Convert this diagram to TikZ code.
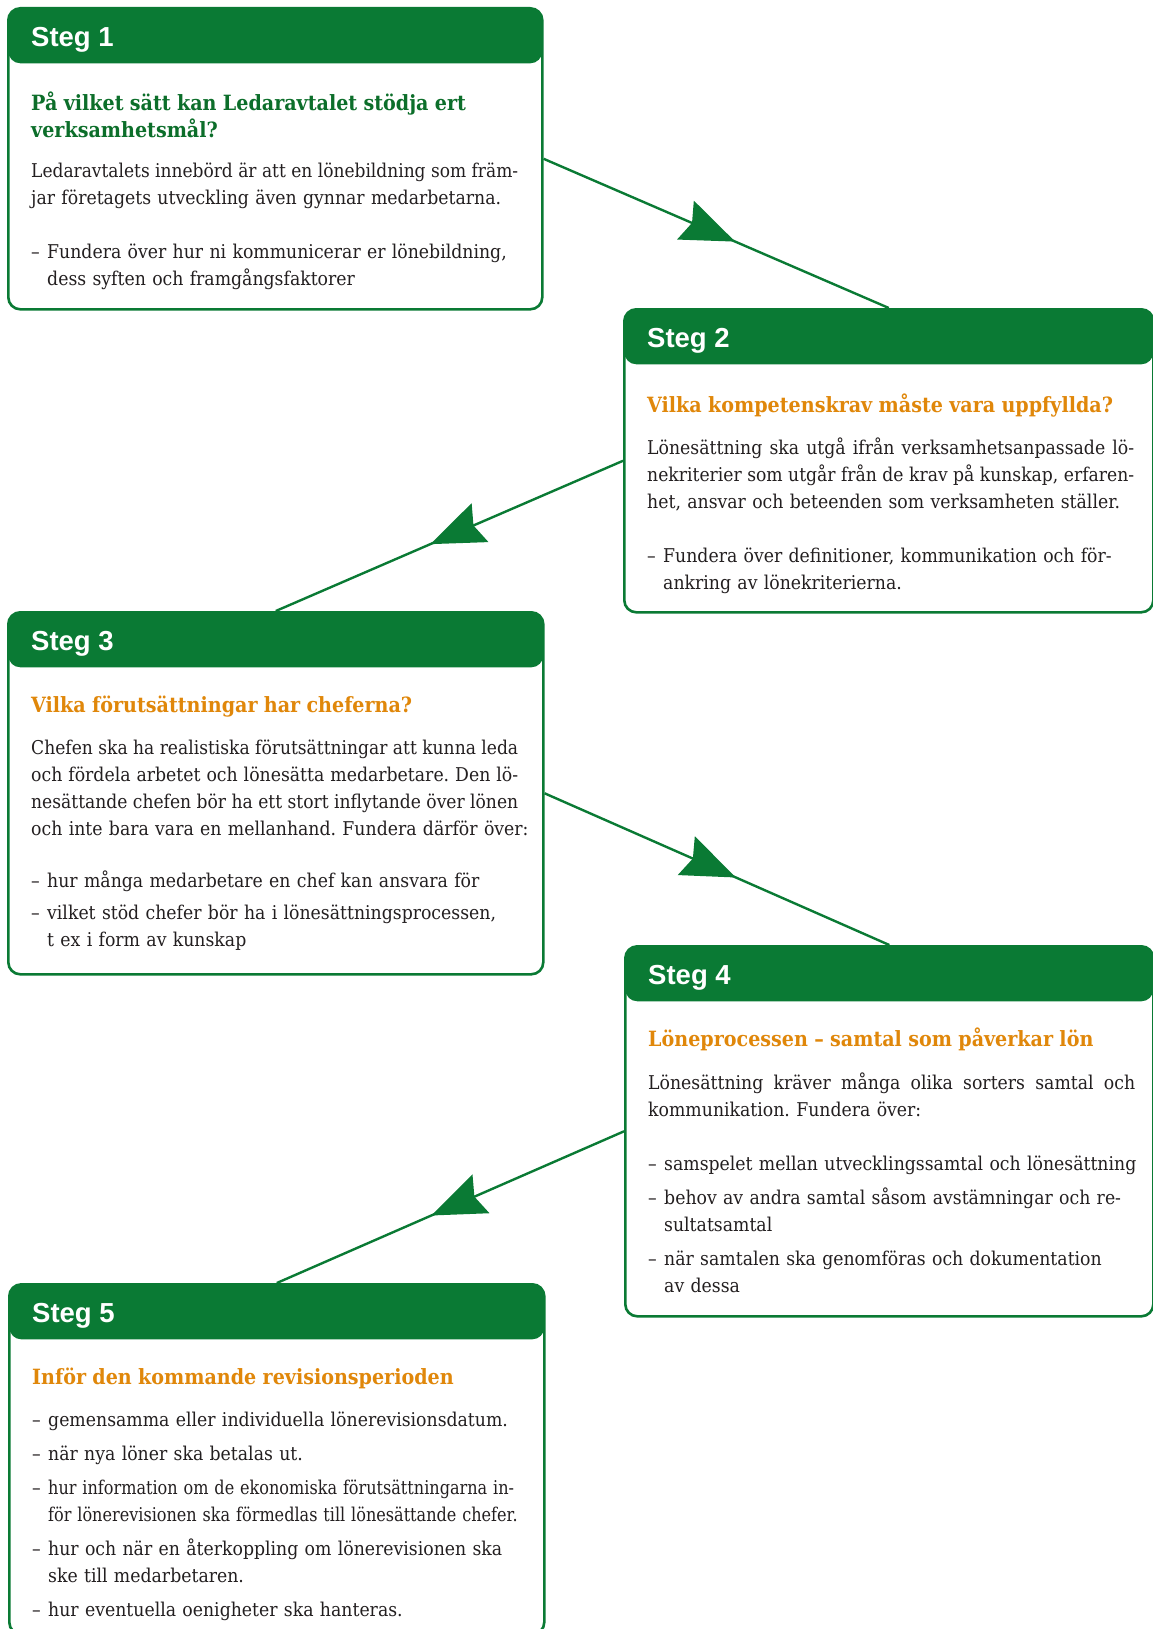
\documentclass[tikz,border=0pt]{standalone}
\usepackage{fontspec}
\usepackage{graphicx}
\setmainfont{DejaVu Serif}[FakeStretch=0.91]
\newfontfamily\stegfont{Liberation Sans}
\usetikzlibrary{arrows.meta,decorations.markings,positioning}
\definecolor{steggreen}{RGB}{10,122,52}
\definecolor{stegqgreen}{RGB}{12,110,42}
\definecolor{stegorange}{RGB}{224,135,10}
\definecolor{stegtext}{RGB}{35,31,32}
\newsavebox\steglinebox
\newcommand\stegq{\fontsize{21}{27}\selectfont\bfseries}
\newcommand\stegdash{\makebox[16pt][l]{–}}
\newcommand\stegind{\hspace*{16pt}}
\newcommand\stegjust[1]{{\spaceskip=0pt\xspaceskip=0pt\sbox\steglinebox{#1}%
	\ifdim\wd\steglinebox>487pt\pgfmathsetmacro\stegratio{487pt/\the\wd\steglinebox}\scalebox{\stegratio}[1]{\usebox\steglinebox}%
	\else\makebox[487pt][s]{#1}\fi}}
\newcommand\stegsqueeze[1]{\scalebox{0.93}[1]{#1}}
\frenchspacing
\begin{document}
\begin{tikzpicture}[x=1pt,y=-1pt,
	stegbox/.style={draw=steggreen,line width=2.6pt,fill=white,rounded corners=12pt,inner sep=0pt,anchor=north west,
		path picture={\fill[steggreen] (path picture bounding box.north west) rectangle ([yshift=-55pt]path picture bounding box.north east);}},
	stegtitle/.style={anchor=base west,inner sep=0pt,text=white,font=\stegfont\bfseries\fontsize{27.5}{27}\selectfont},
	stegtext/.style={anchor=base west,inner sep=0pt,text width=510pt,align=left,text=stegtext,font=\fontsize{19}{27}\selectfont},
	flow/.style={draw=steggreen,line width=2.4pt,postaction={decorate},
		decoration={markings,mark=at position 0.555 with {\arrow{Stealth[length=54pt,width=42pt,inset=7pt]}}}}]
	\useasboundingbox (0,0) rectangle (1152,1629);
	\node[stegbox,minimum width=534pt,minimum height=301pt] (box1) at (7,7) {};
	\node[stegbox,minimum width=529pt,minimum height=303pt] (box2) at (623,308) {};
	\node[stegbox,minimum width=535pt,minimum height=362pt] (box3) at (7,611) {};
	\node[stegbox,minimum width=528pt,minimum height=370pt] (box4) at (624,945) {};
	\node[stegbox,minimum width=535pt,minimum height=350pt] (box5) at (8,1283) {};
	\draw[flow] (box1.east) -- (box2.north);
	\draw[flow] (box2.west) -- (box3.north);
	\draw[flow] (box3.east) -- (box4.north);
	\draw[flow] (box4.west) -- (box5.north);
	\node[stegtitle] (t1) at ([xshift=24pt,yshift=-39.5pt]box1.north west) {Steg 1};
	\node[stegtitle] (t2) at ([xshift=24pt,yshift=-39.5pt]box2.north west) {Steg 2};
	\node[stegtitle] (t3) at ([xshift=24pt,yshift=-39.5pt]box3.north west) {Steg 3};
	\node[stegtitle] (t4) at ([xshift=24pt,yshift=-39.5pt]box4.north west) {Steg 4};
	\node[stegtitle] (t5) at ([xshift=24pt,yshift=-39.5pt]box5.north west) {Steg 5};
	\node[stegtext] (c1) at ([xshift=24pt,yshift=-104pt]box1.north west) {{\stegq\color{stegqgreen}På vilket sätt kan Ledaravtalet stödja ert\\verksamhetsmål?}\\[13pt]
		\stegjust{Ledaravtalets innebörd är att en lönebildning som främ-}\\
		jar företagets utveckling även gynnar medarbetarna.\\[27pt]
		\stegdash Fundera över hur ni kommunicerar er lönebildning,\\
		\stegind dess syften och framgångsfaktorer};
	\node[stegtext] (c2) at ([xshift=24pt,yshift=-104pt]box2.north west) {{\stegq\color{stegorange}Vilka kompetenskrav måste vara uppfyllda?}\\[15pt]
		\stegjust{Lönesättning ska utgå ifrån verksamhetsanpassade lö-}\\
		\stegjust{nekriterier som utgår från de krav på kunskap, erfaren-}\\
		het, ansvar och beteenden som verksamheten ställer.\\[27pt]
		\stegdash Fundera över definitioner, kommunikation och för-\\
		\stegind ankring av lönekriterierna.};
	\node[stegtext] (c3) at ([xshift=24pt,yshift=-101pt]box3.north west) {{\stegq\color{stegorange}Vilka förutsättningar har cheferna?}\\[15pt]
		\stegjust{Chefen ska ha realistiska förutsättningar att kunna leda}\\
		\stegjust{och fördela arbetet och lönesätta medarbetare. Den lö-}\\
		\stegjust{nesättande chefen bör ha ett stort inflytande över lönen}\\
		och inte bara vara en mellanhand. Fundera därför över:\\[25pt]
		\stegdash hur många medarbetare en chef kan ansvara för\\[5pt]
		\stegdash vilket stöd chefer bör ha i lönesättningsprocessen,\\
		\stegind t ex i form av kunskap};
	\node[stegtext] (c4) at ([xshift=24pt,yshift=-101pt]box4.north west) {{\stegq\color{stegorange}Löneprocessen – samtal som påverkar lön}\\[16pt]
		\stegjust{Lönesättning kräver många olika sorters samtal och}\\
		kommunikation. Fundera över:\\[27pt]
		\stegdash samspelet mellan utvecklingssamtal och lönesättning\\[7pt]
		\stegdash behov av andra samtal såsom avstämningar och re-\\
		\stegind sultatsamtal\\[7pt]
		\stegdash när samtalen ska genomföras och dokumentation\\
		\stegind av dessa};
	\node[stegtext] (c5) at ([xshift=24pt,yshift=-101pt]box5.north west) {{\stegq\color{stegorange}Inför den kommande revisionsperioden}\\[15pt]
		\stegdash gemensamma eller individuella lönerevisionsdatum.\\[7pt]
		\stegdash när nya löner ska betalas ut.\\[7pt]
		\stegdash \stegsqueeze{hur information om de ekonomiska förutsättningarna in-}\\
		\stegind \stegsqueeze{för lönerevisionen ska förmedlas till lönesättande chefer.}\\[7pt]
		\stegdash hur och när en återkoppling om lönerevisionen ska\\
		\stegind ske till medarbetaren.\\[7pt]
		\stegdash hur eventuella oenigheter ska hanteras.};
\end{tikzpicture}
\end{document}
